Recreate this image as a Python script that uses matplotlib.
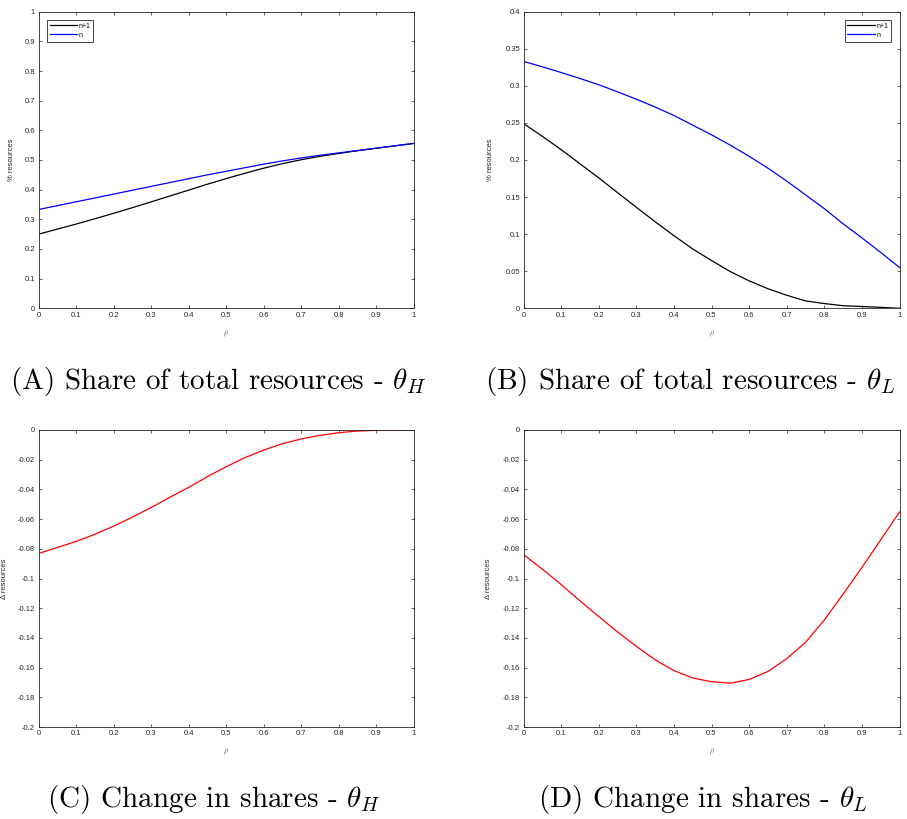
import numpy as np
import matplotlib
matplotlib.use("Agg")
import matplotlib.pyplot as plt
from matplotlib.ticker import FormatStrFormatter

plt.rcParams['font.family'] = ['Liberation Sans', 'DejaVu Sans']
plt.rcParams['axes.unicode_minus'] = False
plt.rcParams['mathtext.fontset'] = 'cm'

# rho grid (read every 0.05)
rho = [0.0, 0.05, 0.1, 0.15, 0.2, 0.25, 0.3, 0.35, 0.4, 0.45, 0.5,
       0.55, 0.6, 0.65, 0.7, 0.75, 0.8, 0.85, 0.9, 0.95, 1.0]

# theta_H: share with n agents
share_H_n = [0.333, 0.346, 0.359, 0.372, 0.385, 0.398, 0.411, 0.424, 0.437, 0.450, 0.462,
             0.474, 0.486, 0.497, 0.507, 0.516, 0.524, 0.532, 0.540, 0.548, 0.556]
# theta_H: change in shares (n+1 minus n)
delta_H = [-0.0832, -0.0791, -0.0751, -0.0702, -0.0648, -0.0587, -0.0522, -0.0453, -0.0386, -0.0314, -0.0247,
           -0.0186, -0.0135, -0.0092, -0.0060, -0.0036, -0.0018, -0.0007, -0.0002, -0.0001, 0.0]

# theta_L: share with n agents
share_L_n = [0.333, 0.3257, 0.318, 0.310, 0.3015, 0.292, 0.282, 0.2715, 0.260, 0.247, 0.234,
             0.220, 0.205, 0.189, 0.1716, 0.153, 0.1344, 0.114, 0.095, 0.0753, 0.0551]
# theta_L: change in shares
delta_L = [-0.0839, -0.0937, -0.104, -0.115, -0.1256, -0.136, -0.1457, -0.1547, -0.162, -0.167, -0.1695,
           -0.1705, -0.168, -0.1626, -0.154, -0.143, -0.128, -0.1105, -0.0926, -0.074, -0.0552]

share_H_n1 = list(np.array(share_H_n) + np.array(delta_H))
share_L_n1 = list(np.maximum(np.array(share_L_n) + np.array(delta_L), 0))

captions = [r'(A) Share of total resources - $\theta_H$',
            r'(B) Share of total resources - $\theta_L$',
            r'(C) Change in shares - $\theta_H$',
            r'(D) Change in shares - $\theta_L$']

W, H = 907, 819
fig = plt.figure(figsize=(W / 100, H / 100), dpi=100)

def make_axes(x0, x1, y0, y1):
    return fig.add_axes([x0 / W, 1 - y1 / H, (x1 - x0) / W, (y1 - y0) / H])

axA = make_axes(38.5, 414, 11.7, 308.3)
axB = make_axes(523.5, 899.5, 11.7, 308.3)
axC = make_axes(38.5, 414, 430, 727)
axD = make_axes(523.5, 899.5, 430, 727)

dark = '#262626'
for ax in (axA, axB, axC, axD):
    ax.set_xlim(0, 1)
    ax.set_xticks(np.round(np.arange(0, 1.01, 0.1), 2))
    ax.xaxis.set_major_formatter(FormatStrFormatter('%g'))
    ax.yaxis.set_major_formatter(FormatStrFormatter('%g'))
    ax.tick_params(direction='in', top=True, right=True, length=2.3, width=0.5,
                   labelsize=5.5, colors=dark, pad=2.5)
    for s in ax.spines.values():
        s.set_color(dark)
        s.set_linewidth(0.6)
    ax.set_xlabel(r'$\rho$', fontsize=5.5, color='#555555')
    ax.xaxis.set_label_coords(0.5, -0.068)

lw = 0.9
axA.plot(rho, share_H_n1, color='k', lw=lw, label='n+1')
axA.plot(rho, share_H_n, color='#0000ff', lw=lw, label='n')
axA.set_ylim(0, 1)
axA.set_yticks(np.round(np.arange(0, 1.01, 0.1), 2))
axA.set_ylabel('% resources', fontsize=5.5, color=dark)
axA.yaxis.set_label_coords(-0.063, 0.5)

axB.plot(rho, share_L_n1, color='k', lw=lw, label='n+1')
axB.plot(rho, share_L_n, color='#0000ff', lw=lw, label='n')
axB.set_ylim(0, 0.4)
axB.set_yticks(np.round(np.arange(0, 0.401, 0.05), 2))
axB.set_ylabel('% resources', fontsize=5.5, color=dark)
axB.yaxis.set_label_coords(-0.078, 0.5)

axC.plot(rho, delta_H, color='#ff0000', lw=lw)
axC.set_ylim(-0.2, 0)
axC.set_yticks(np.round(np.arange(-0.2, 0.001, 0.02), 2) + 0.0)
axC.set_ylabel('Δ resources', fontsize=5.5, color=dark)
axC.yaxis.set_label_coords(-0.081, 0.5)

axD.plot(rho, delta_L, color='#ff0000', lw=lw)
axD.set_ylim(-0.2, 0)
axD.set_yticks(np.round(np.arange(-0.2, 0.001, 0.02), 2) + 0.0)
axD.set_ylabel('Δ resources', fontsize=5.5, color=dark)
axD.yaxis.set_label_coords(-0.085, 0.5)

for ax, loc in ((axA, 'upper left'), (axB, 'upper right')):
    leg = ax.legend(loc=loc, fontsize=5, handlelength=4.0, handletextpad=0.2,
                    labelspacing=0.3, borderpad=0.4, borderaxespad=1.2,
                    fancybox=False, framealpha=1)
    leg.get_frame().set_edgecolor(dark)
    leg.get_frame().set_linewidth(0.6)

cap_pos = [(218, 381), (690, 381), (214, 800), (703, 800)]
for (cx, cy), txt in zip(cap_pos, captions):
    fig.text(cx / W, 1 - cy / H, txt, family='cmr10', fontsize=21,
             ha='center', va='center')

fig.savefig('out.png', dpi=100)
